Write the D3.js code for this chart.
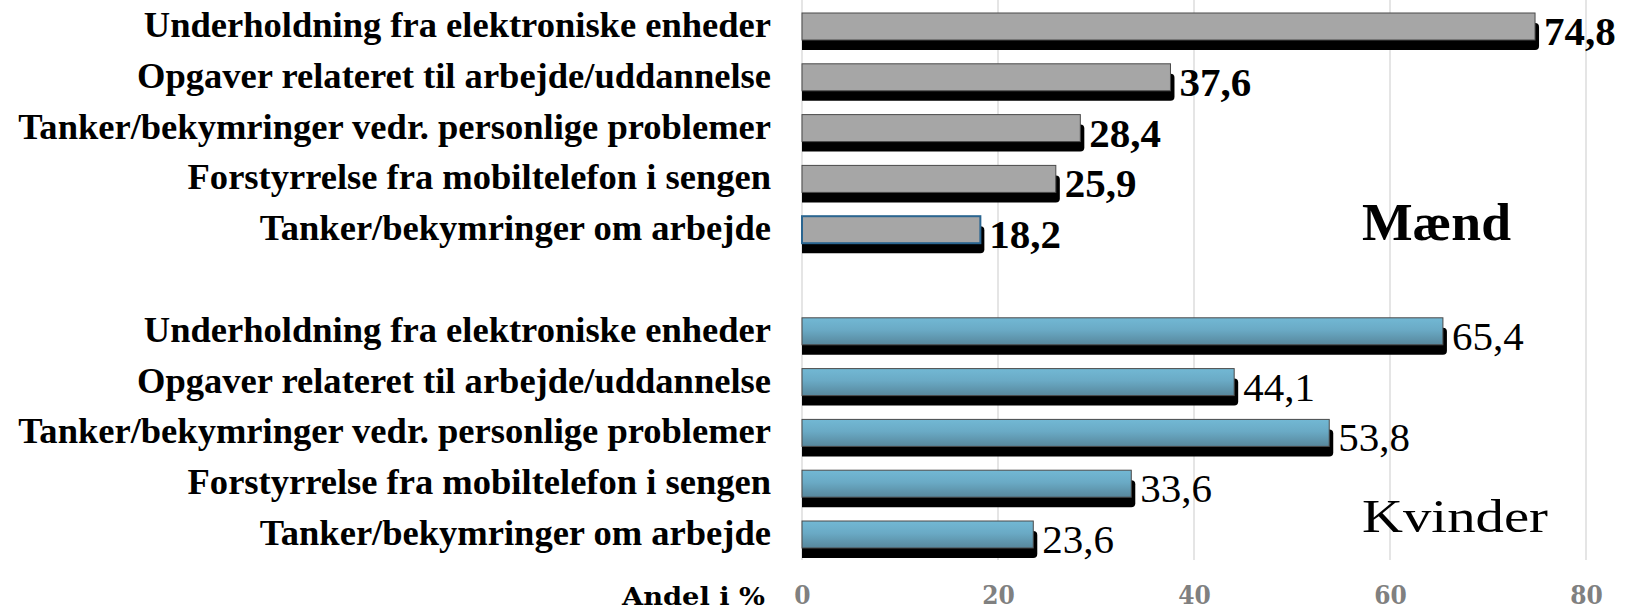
<!DOCTYPE html>
<html>
<head>
<meta charset="utf-8">
<script src="https://cdn.jsdelivr.net/npm/d3@7"></script>
<style>
  html, body { margin: 0; padding: 0; background: #ffffff; }
  svg { display: block; }
</style>
</head>
<body>
<svg id="chart" width="1627" height="612"></svg>
<script>
// ---- data ----
const categories = [
  "Underholdning fra elektroniske enheder",
  "Opgaver relateret til arbejde/uddannelse",
  "Tanker/bekymringer vedr. personlige problemer",
  "Forstyrrelse fra mobiltelefon i sengen",
  "Tanker/bekymringer om arbejde"
];
const groupNames = ["Mænd", "Kvinder"];
const maendValues = [74.8, 37.6, 28.4, 25.9, 18.2];
const kvinderValues = [65.4, 44.1, 53.8, 33.6, 23.6];
const xTicks = [0, 20, 40, 60, 80];
const axisTitle = "Andel i %";

// ---- build rows ----
const rows = [];
categories.forEach((c, i) => rows.push({ slot: i, group: 0, cat: c, value: maendValues[i], idx: i }));
categories.forEach((c, i) => rows.push({ slot: 6 + i, group: 1, cat: c, value: kvinderValues[i], idx: i }));

const svg = d3.select("#chart");
const W = 1627, H = 612;

const x = d3.scaleLinear().domain([0, 80]).range([802, 1586]);
const y = d3.scaleBand().domain(d3.range(11)).range([13, 13 + 11 * 50.8]).padding(0);
const barH = 27;

const locale = d3.formatLocale({ decimal: ",", thousands: ".", grouping: [3], currency: ["", " kr"] });
const fmt = locale.format(".1f");

const defs = svg.append("defs");
const grad = defs.append("linearGradient").attr("id", "blueGrad")
  .attr("x1", 0).attr("y1", 0).attr("x2", 0).attr("y2", 1);
grad.append("stop").attr("offset", "0%").attr("stop-color", "#72b8d4");
grad.append("stop").attr("offset", "45%").attr("stop-color", "#6aaac5");
grad.append("stop").attr("offset", "100%").attr("stop-color", "#57879c");
defs.append("clipPath").attr("id", "plotClip")
  .append("rect").attr("x", x(0)).attr("y", 0).attr("width", W - x(0)).attr("height", H);

// ---- gridlines ----
svg.append("g").selectAll("line").data(xTicks).join("line")
  .attr("x1", d => x(d)).attr("x2", d => x(d))
  .attr("y1", 0).attr("y2", 560)
  .attr("stroke", "#dcdcdc").attr("stroke-width", 1.5);

// ---- shadows ----
svg.append("g").attr("clip-path", "url(#plotClip)")
  .selectAll("rect").data(rows).join("rect")
  .attr("x", x(0) - 8)
  .attr("y", d => y(d.slot) + 10)
  .attr("width", d => x(d.value) - x(0) + 8 + 4)
  .attr("height", barH)
  .attr("rx", 4)
  .attr("fill", "#000");

// ---- bars ----
svg.append("g").selectAll("rect").data(rows).join("rect")
  .attr("x", x(0))
  .attr("y", d => y(d.slot))
  .attr("width", d => x(d.value) - x(0))
  .attr("height", barH)
  .attr("fill", d => d.group === 0 ? "#a6a6a6" : "url(#blueGrad)")
  .attr("stroke", d => (d.group === 0 && d.idx === 4) ? "#2a6590" : "#4a4a4a")
  .attr("stroke-width", d => (d.group === 0 && d.idx === 4) ? 2 : 1);

// ---- value labels ----
svg.append("g").selectAll("text").data(rows).join("text")
  .attr("x", d => x(d.value) + 9)
  .attr("y", d => y(d.slot) + 32)
  .attr("font-family", "'Liberation Serif', serif")
  .attr("font-size", 41)
  .attr("font-weight", d => d.group === 0 ? "bold" : "normal")
  .attr("fill", "#000")
  .text(d => fmt(d.value));

// ---- category labels ----
const labG = svg.append("g");
const labs = labG.selectAll("text").data(rows).join("text")
  .attr("text-anchor", "end")
  .attr("font-family", "'Liberation Serif', serif")
  .attr("font-weight", "bold")
  .attr("font-size", 36)
  .attr("fill", "#000")
  .text(d => d.cat);
let maxW = 0;
labs.each(function () { maxW = Math.max(maxW, this.getComputedTextLength()); });
const sx = 753 / maxW;
labs.attr("transform", d => `translate(771,${y(d.slot) + 24}) scale(${sx},1)`);

// ---- group titles ----
svg.append("text")
  .attr("x", 1362).attr("y", 240)
  .attr("font-family", "'Liberation Serif', serif")
  .attr("font-weight", "bold").attr("font-size", 53)
  .attr("textLength", 149).attr("lengthAdjust", "spacingAndGlyphs")
  .text(groupNames[0]);
svg.append("text")
  .attr("x", 1362).attr("y", 532)
  .attr("font-family", "'Liberation Serif', serif")
  .attr("font-size", 47)
  .attr("textLength", 186).attr("lengthAdjust", "spacingAndGlyphs")
  .text(groupNames[1]);

// ---- x axis ----
const axis = d3.axisBottom(x).tickValues(xTicks).tickSize(0).tickPadding(0).tickFormat(d3.format("d"));
const ax = svg.append("g").attr("transform", "translate(0,586)").call(axis);
ax.select(".domain").remove();
ax.selectAll("text")
  .attr("font-family", "'DejaVu Serif Condensed', 'Liberation Serif', serif")
  .attr("font-size", 26)
  .attr("font-weight", "bold")
  .attr("fill", "#808080");

svg.append("text")
  .attr("x", 765).attr("y", 605)
  .attr("text-anchor", "end")
  .attr("font-family", "'DejaVu Serif Condensed', serif")
  .attr("font-weight", "bold").attr("font-size", 24)
  .attr("textLength", 143).attr("lengthAdjust", "spacingAndGlyphs")
  .text(axisTitle);
</script>
</body>
</html>
